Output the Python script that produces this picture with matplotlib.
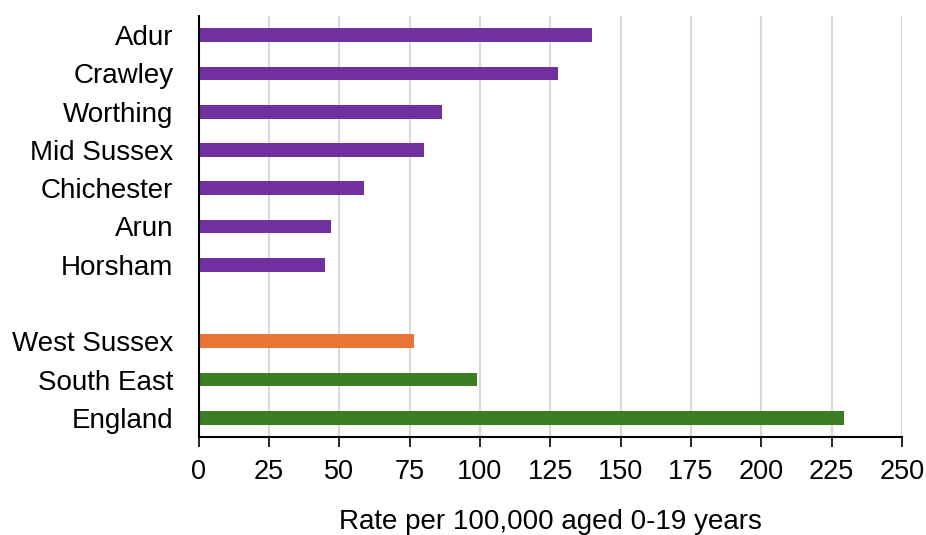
import matplotlib
matplotlib.use("Agg")
import matplotlib.pyplot as plt

# Rates per 100,000 aged 0-19, districts then comparators
categories = ["Adur", "Crawley", "Worthing", "Mid Sussex", "Chichester", "Arun", "Horsham",
              "", "West Sussex", "South East", "England"]
values = [140.0, 127.6, 86.7, 80.1, 58.9, 47.0, 45.1, None, 76.5, 98.8, 229.3]
groups = ["district"] * 7 + [None] + ["county", "region", "region"]
xticks = [0, 25, 50, 75, 100, 125, 150, 175, 200, 225, 250]
xlabel = "Rate per 100,000 aged 0-19 years"

palette = {"district": "#7030A0", "county": "#EA7433", "region": "#3B7D23"}

plt.rcParams["font.family"] = ["Liberation Sans", "DejaVu Sans"]

fig = plt.figure(figsize=(9.26, 5.35), dpi=100)
ax = fig.add_axes([198.5 / 926, 1 - 437 / 535, (902 - 198.5) / 926, (437 - 16) / 535])

for i, (v, g) in enumerate(zip(values, groups)):
    if v is None:
        continue
    ax.barh(i, v, height=0.36, color=palette[g], zorder=3)

ax.set_ylim(len(categories) - 0.5, -0.5)
ax.set_xlim(0, 250)
ax.set_yticks(range(len(categories)))
ax.set_yticklabels(categories, fontsize=20)
ax.set_xticks(xticks)
ax.set_xticklabels([str(t) for t in xticks], fontsize=19.5)
ax.tick_params(axis="y", length=0, pad=18)
ax.tick_params(axis="x", length=7, width=1.2, color="black", pad=9, direction="out")

ax.grid(axis="x", color="#d9d9d9", linewidth=1.5, zorder=0)
for s in ["top", "right"]:
    ax.spines[s].set_visible(False)
for s in ["left", "bottom"]:
    ax.spines[s].set_color("black")
    ax.spines[s].set_linewidth(1.5)
    ax.spines[s].set_zorder(4)

ax.set_xlabel(xlabel, fontsize=20, labelpad=17)

fig.savefig("out.png", dpi=100)
